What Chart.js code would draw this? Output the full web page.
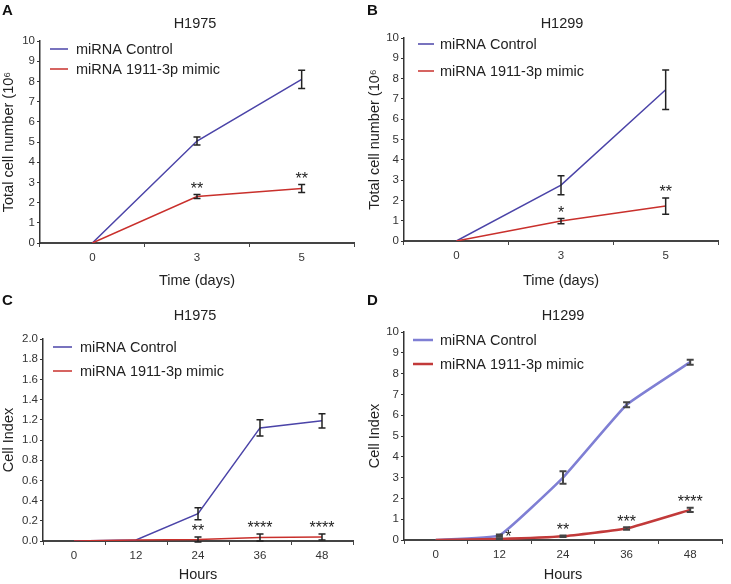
<!DOCTYPE html>
<html>
<head>
<meta charset="utf-8">
<script src="https://cdn.jsdelivr.net/npm/chart.js@4.4.1/dist/chart.umd.min.js"></script>
<style>
  body { margin: 0; background: #fff; font-family: 'Liberation Sans', Arial, sans-serif; }
  #fig { position: relative; width: 731px; height: 584px; overflow: hidden; }
  canvas { position: absolute; }
  .letter { position: absolute; font-weight: bold; font-size: 15px; line-height: 16px; color: #111; }
  .title { position: absolute; width: 120px; text-align: center; font-size: 14.5px; line-height: 16px; color: #222; }
</style>
</head>
<body>
<div id="fig">
  <canvas id="panelA" width="365" height="290" style="left:0;top:0"></canvas>
  <canvas id="panelB" width="366" height="290" style="left:365px;top:0"></canvas>
  <canvas id="panelC" width="365" height="294" style="left:0;top:290px"></canvas>
  <canvas id="panelD" width="366" height="294" style="left:365px;top:290px"></canvas>

  <div class="letter" style="left:2px;top:2px">A</div>
  <div class="letter" style="left:367px;top:2px">B</div>
  <div class="letter" style="left:2px;top:292px">C</div>
  <div class="letter" style="left:367px;top:292px">D</div>

  <div class="title" style="left:135px;top:15px">H1975</div>
  <div class="title" style="left:502px;top:15px">H1299</div>
  <div class="title" style="left:135px;top:307px">H1975</div>
  <div class="title" style="left:503px;top:307px">H1299</div>
</div>

<script>
// ---- data ----
const seriesNames = ['miRNA Control', 'miRNA 1911-3p mimic'];
const dayLabels = ['0', '3', '5'];
const hourLabels = ['0', '12', '24', '36', '48'];

// A: H1975 total cell number (10^6)
const h1975DaysControl = [0, 5.05, 8.1];
const h1975DaysControlErr = [0, 0.2, 0.45];
const h1975DaysMimic = [0, 2.3, 2.7];
const h1975DaysMimicErr = [0, 0.1, 0.2];
const h1975DaysSig = ['', '**', '**'];

// B: H1299 total cell number (10^6)
const h1299DaysControl = [0, 2.75, 7.45];
const h1299DaysControlErr = [0, 0.47, 0.97];
const h1299DaysMimic = [0, 0.98, 1.72];
const h1299DaysMimicErr = [0, 0.13, 0.4];
const h1299DaysSig = ['', '*', '**'];

// C: H1975 cell index
const h1975HoursControl = [0, 0.01, 0.27, 1.12, 1.19];
const h1975HoursControlErr = [0, 0, 0.06, 0.08, 0.07];
const h1975HoursMimic = [0, 0.01, 0.015, 0.035, 0.04];
const h1975HoursMimicErr = [0, 0, 0.025, 0.035, 0.03];
const h1975HoursSig = ['', '', '**', '****', '****'];

// D: H1299 cell index
const h1299HoursControl = [0, 0.22, 3.0, 6.5, 8.55];
const h1299HoursControlErr = [0, 0.05, 0.3, 0.12, 0.12];
const h1299HoursMimic = [0, 0.05, 0.18, 0.55, 1.45];
const h1299HoursMimicErr = [0, 0.03, 0.04, 0.06, 0.1];
const h1299HoursSig = ['', '*', '**', '***', '****'];

const FONT = "'Liberation Sans', Arial, sans-serif";

// error bars, significance stars and the in-plot legend
const extras = {
    id: 'extras',
    afterDatasetsDraw(chart, args, opts) {
        const ctx = chart.ctx;
        const xs = chart.scales.x, ys = chart.scales.y;
        chart.data.datasets.forEach((ds) => {
            ds.errors.forEach((e, j) => {
                if (!e) return;
                const px = xs.getPixelForValue(j);
                const top = ys.getPixelForValue(ds.data[j] + e);
                const bot = ys.getPixelForValue(ds.data[j] - e);
                ctx.save();
                ctx.strokeStyle = opts.barColor;
                ctx.lineWidth = opts.barWidth;
                ctx.beginPath();
                ctx.moveTo(px, top); ctx.lineTo(px, bot);
                ctx.moveTo(px - 3.5, top); ctx.lineTo(px + 3.5, top);
                ctx.moveTo(px - 3.5, bot); ctx.lineTo(px + 3.5, bot);
                ctx.stroke();
                ctx.restore();
            });
            if (!ds.sig) return;
            ds.sig.forEach((s, j) => {
                if (!s) return;
                const px = xs.getPixelForValue(j) + (opts.sigDx[j] || 0);
                const top = ys.getPixelForValue(ds.data[j] + ds.errors[j]);
                ctx.save();
                ctx.fillStyle = '#222';
                ctx.font = '16px ' + FONT;
                ctx.textAlign = 'center';
                ctx.textBaseline = 'middle';
                ctx.fillText(s, px, top - 5 + (opts.sigDy[j] || 0));
                ctx.restore();
            });
        });
    },
    afterDraw(chart, args, opts) {
        const ctx = chart.ctx;
        const lg = opts.legend;
        chart.data.datasets.forEach((ds, i) => {
            const y = lg.rows[i];
            ctx.save();
            ctx.strokeStyle = ds.borderColor;
            ctx.lineWidth = ds.borderWidth;
            ctx.beginPath();
            ctx.moveTo(lg.x0, y); ctx.lineTo(lg.x1, y);
            ctx.stroke();
            ctx.fillStyle = '#222';
            ctx.font = '14.5px ' + FONT;
            ctx.textBaseline = 'middle';
            ctx.fillText(ds.label, lg.tx, y + 1);
            ctx.restore();
        });
    }
};

function makePanel(id, p) {
    const tickFont = { family: FONT, size: 11.5 };
    const titleFont = { family: FONT, size: 14.5 };
    const ctx = document.getElementById(id).getContext('2d');
    const config = {
        type: 'line',
        data: {
            labels: p.labels,
            datasets: [{
                label: seriesNames[0],
                data: p.control,
                errors: p.controlErr,
                borderColor: p.blue,
                borderWidth: p.lineWidth,
                pointRadius: 0,
                tension: p.tension,
                order: 2,
            }, {
                label: seriesNames[1],
                data: p.mimic,
                errors: p.mimicErr,
                sig: p.sig,
                borderColor: p.red,
                borderWidth: p.lineWidth,
                pointRadius: 0,
                tension: p.tension,
                order: 1,
            }],
        },
        options: {
            responsive: false,
            animation: false,
            devicePixelRatio: 1,
            layout: { padding: { top: p.padTop, right: p.padRight, left: 0, bottom: 0 } },
            plugins: {
                legend: { display: false },
                tooltip: { enabled: false },
                extras: {
                    barColor: p.barColor,
                    barWidth: p.barWidth,
                    sigDx: p.sigDx || [],
                    sigDy: p.sigDy || [],
                    legend: p.legend,
                },
            },
            scales: {
                x: {
                    offset: true,
                    grid: { drawOnChartArea: false, drawTicks: true, tickLength: 4, color: '#444', offset: true },
                    border: { display: true, color: '#444', width: 2 },
                    ticks: { font: tickFont, color: '#333', padding: 4, maxRotation: 0 },
                    title: { display: true, text: p.xTitle, font: titleFont, color: '#222', padding: { top: p.xTitlePad, bottom: 0 } },
                    afterFit: (s) => { s.height = p.xHeight; },
                },
                y: {
                    min: 0,
                    max: p.yMax,
                    grid: { drawOnChartArea: false, drawTicks: true, tickLength: 3, color: '#333' },
                    border: { display: true, color: '#333', width: 1.5 },
                    ticks: {
                        stepSize: p.yStep,
                        font: tickFont,
                        color: '#333',
                        padding: 2,
                        callback: (v) => p.yStep < 1 ? v.toFixed(1) : v,
                    },
                    title: { display: true, text: p.yTitle, font: titleFont, color: '#222', padding: { top: p.yTitlePad, bottom: 0 } },
                    afterFit: (s) => { s.width = p.yWidth; },
                },
            },
        },
        plugins: [extras],
    };
    return new Chart(ctx, config);
}

const blue = '#4b44a8';
const red = '#c9302c';

makePanel('panelA', {
    labels: dayLabels, control: h1975DaysControl, controlErr: h1975DaysControlErr,
    mimic: h1975DaysMimic, mimicErr: h1975DaysMimicErr, sig: h1975DaysSig,
    blue: blue, red: red, lineWidth: 1.5, tension: 0, barColor: '#222', barWidth: 1.5,
    yMax: 10, yStep: 1, yTitle: 'Total cell number (10\u2076', xTitle: 'Time (days)',
    padTop: 41, padRight: 11, yWidth: 40, xHeight: 47, xTitlePad: 6.6, yTitlePad: 0,
    legend: { x0: 50, x1: 68, tx: 76, rows: [49, 69] },
});

makePanel('panelB', {
    labels: dayLabels, control: h1299DaysControl, controlErr: h1299DaysControlErr,
    mimic: h1299DaysMimic, mimicErr: h1299DaysMimicErr, sig: h1299DaysSig,
    blue: blue, red: red, lineWidth: 1.5, tension: 0, barColor: '#222', barWidth: 1.5,
    yMax: 10, yStep: 1, yTitle: 'Total cell number (10\u2076', xTitle: 'Time (days)',
    padTop: 38, padRight: 13, yWidth: 39, xHeight: 49, xTitlePad: 6.6, yTitlePad: 1,
    legend: { x0: 53, x1: 69, tx: 75, rows: [44, 71] },
});

makePanel('panelC', {
    labels: hourLabels, control: h1975HoursControl, controlErr: h1975HoursControlErr,
    mimic: h1975HoursMimic, mimicErr: h1975HoursMimicErr, sig: h1975HoursSig,
    blue: blue, red: red, lineWidth: 1.5, tension: 0, barColor: '#222', barWidth: 1.5,
    yMax: 2, yStep: 0.2, yTitle: 'Cell Index', xTitle: 'Hours',
    padTop: 49, padRight: 12, yWidth: 43, xHeight: 43, xTitlePad: 0.6, yTitlePad: 0,
    legend: { x0: 53, x1: 72, tx: 80, rows: [57, 81] },
});

makePanel('panelD', {
    labels: hourLabels, control: h1299HoursControl, controlErr: h1299HoursControlErr,
    mimic: h1299HoursMimic, mimicErr: h1299HoursMimicErr, sig: h1299HoursSig,
    blue: '#7f7fd4', red: '#c23a3a', lineWidth: 2.5, tension: 0.1, barColor: '#444', barWidth: 2,
    yMax: 10, yStep: 1, yTitle: 'Cell Index', xTitle: 'Hours',
    padTop: 42, padRight: 9, yWidth: 39, xHeight: 44, xTitlePad: 0.6, yTitlePad: 1.6,
    sigDx: [0, 9, 0, 0, 0], sigDy: [0, 4, 0, 0, 0],
    legend: { x0: 48, x1: 68, tx: 75, rows: [50, 74] },
});
</script>
</body>
</html>
